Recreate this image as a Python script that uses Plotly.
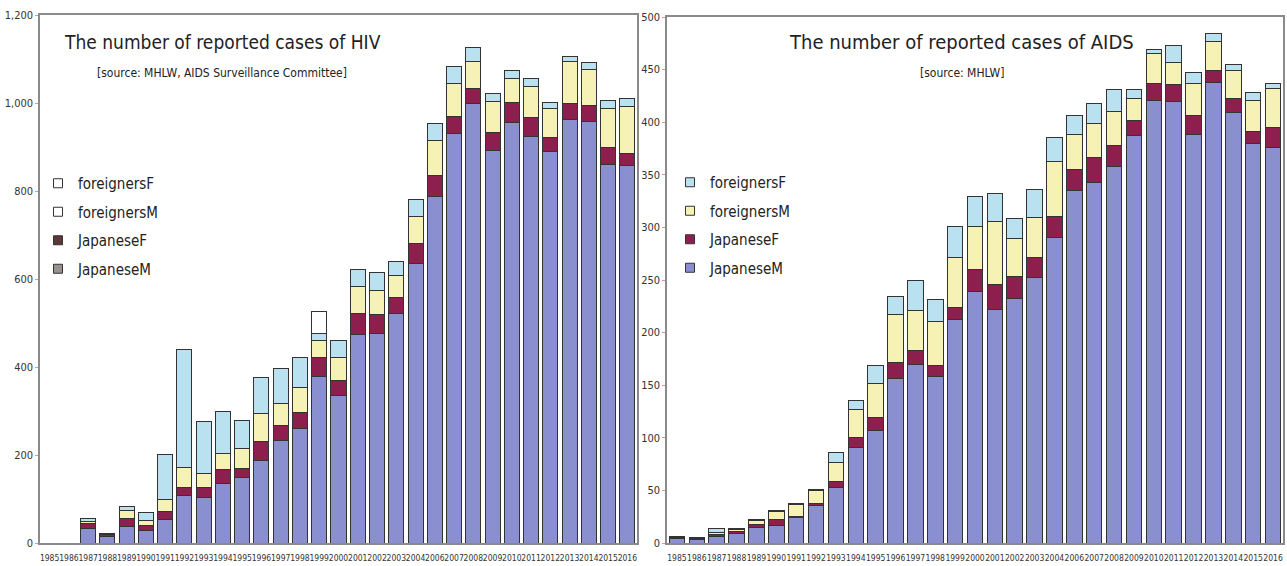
import plotly.graph_objects as go
from plotly.subplots import make_subplots

years = ["1985", "1986", "1987", "1988", "1989", "1990", "1991", "1992", "1993", "1994",
         "1995", "1996", "1997", "1998", "1999", "2000", "2001", "2002", "2003", "2004",
         "2006", "2007", "2008", "2009", "2010", "2011", "2012", "2013", "2014", "2015", "2016"]

# HIV (left chart)
hiv_jm = [0, 0, 33, 14, 37, 29, 54, 108, 103, 136, 148, 187, 234, 260, 378, 335, 473, 477, 522, 636,
          787, 931, 999, 893, 956, 923, 889, 963, 959, 860, 858]
hiv_jf = [0, 0, 12, 6, 19, 10, 18, 19, 24, 32, 21, 44, 33, 36, 44, 34, 49, 42, 37, 45,
          49, 38, 34, 40, 45, 44, 32, 35, 35, 40, 28]
hiv_fm = [0, 0, 5, 1, 19, 13, 27, 45, 32, 36, 46, 64, 49, 58, 38, 52, 60, 56, 48, 61,
          78, 76, 61, 70, 55, 70, 67, 96, 83, 88, 107]
hiv_ff = [0, 0, 5, 1, 7, 17, 102, 268, 118, 95, 64, 81, 80, 67, 17, 40, 39, 39, 33, 38,
          40, 37, 32, 18, 19, 19, 14, 12, 14, 18, 18]
hiv_other = [0, 0, 0, 0, 0, 0, 0, 0, 0, 0, 0, 0, 0, 0, 50, 0, 0, 0, 0, 0,
             0, 0, 0, 0, 0, 0, 0, 0, 0, 0, 0]

# AIDS (right chart)
aids_jm = [4, 3, 6, 9, 15, 17, 24, 36, 53, 91, 107, 156, 170, 158, 212, 239, 222, 232, 252, 290,
           335, 343, 358, 387, 421, 420, 388, 438, 409, 380, 376]
aids_jf = [0, 0, 2, 2, 3, 5, 1, 2, 5, 9, 12, 16, 13, 11, 12, 21, 24, 21, 19, 20,
           20, 23, 20, 15, 16, 16, 18, 11, 14, 11, 19]
aids_fm = [1, 1, 2, 2, 3, 8, 12, 12, 19, 27, 33, 45, 38, 42, 47, 41, 60, 36, 38, 53,
           33, 33, 32, 21, 28, 21, 31, 28, 26, 30, 37]
aids_ff = [1, 1, 4, 1, 1, 1, 1, 1, 9, 8, 17, 17, 29, 20, 30, 28, 26, 19, 27, 22,
           18, 19, 21, 8, 4, 16, 10, 7, 6, 7, 5]

series_names = ["JapaneseM", "JapaneseF", "foreignersM", "foreignersF"]
bar_colors = ["#8a8fd0", "#8c1f4e", "#f6f1b4", "#b9e1ef"]
left_legend_colors = ["#9a9090", "#5e3838", "#ffffff", "#ffffff"]
right_legend_colors = bar_colors

FONT = "Liberation Sans Narrow, DejaVu Sans Condensed, Arial Narrow, sans-serif"
OUTLINE = "#333333"

fig = make_subplots(rows=1, cols=2, horizontal_spacing=0.03)

for name, vals, col in zip(series_names, [hiv_jm, hiv_jf, hiv_fm, hiv_ff], bar_colors):
    fig.add_trace(go.Bar(x=years, y=vals, name=name, marker_color=col,
                         marker_line=dict(color=OUTLINE, width=1), showlegend=False),
                  row=1, col=1)
fig.add_trace(go.Bar(x=years, y=hiv_other, name="other", marker_color="#ffffff",
                     marker_line=dict(color=OUTLINE, width=1), showlegend=False), row=1, col=1)

for name, vals, col in zip(series_names, [aids_jm, aids_jf, aids_fm, aids_ff], bar_colors):
    fig.add_trace(go.Bar(x=years, y=vals, name=name, marker_color=col,
                         marker_line=dict(color=OUTLINE, width=1), showlegend=False),
                  row=1, col=2)

# legend entries (top to bottom: foreignersF, foreignersM, JapaneseF, JapaneseM)
for name, col in reversed(list(zip(series_names, left_legend_colors))):
    fig.add_trace(go.Scatter(x=[None], y=[None], mode="markers", name=name,
                             legendgroup="L" + name,
                             marker=dict(symbol="square", size=9, color=col,
                                         line=dict(color="#333333", width=1)),
                             legend="legend"), row=1, col=1)
for name, col in reversed(list(zip(series_names, right_legend_colors))):
    fig.add_trace(go.Scatter(x=[None], y=[None], mode="markers", name=name,
                             legendgroup="R" + name,
                             marker=dict(symbol="square", size=9, color=col,
                                         line=dict(color="#333333", width=1)),
                             legend="legend2"), row=1, col=2)

W, H = 1287, 566
ml, mr, mt, mb = 40, 4, 15, 23
pw = W - ml - mr
ph = H - mt - mb

def px(x):
    return (x - ml) / pw

def py(y):
    return (H - mb - y) / ph

leg_font = dict(size=15, family=FONT, color="#222222")
fig.update_layout(
    width=W, height=H,
    margin=dict(l=ml, r=mr, t=mt, b=mb, autoexpand=False),
    barmode="stack", bargap=0.22,
    paper_bgcolor="white", plot_bgcolor="white",
    font=dict(family=FONT, color="#222222"),
    legend=dict(x=px(38), y=py(167), xanchor="left", yanchor="top", font=leg_font,
                traceorder="grouped", bgcolor="rgba(0,0,0,0)", itemwidth=30, tracegroupgap=6),
    legend2=dict(x=px(670), y=py(166), xanchor="left", yanchor="top", font=leg_font,
                 traceorder="grouped", bgcolor="rgba(0,0,0,0)", itemwidth=30, tracegroupgap=6),
)

axis_common = dict(showline=True, linecolor="#8a8a8a", linewidth=1.5, mirror=True,
                   showgrid=False, zeroline=False, automargin=False)
fig.update_xaxes(**axis_common, type="category", tickfont=dict(size=8.5, family=FONT, color="#333333"),
                 tickangle=0, ticks="", ticklabelstandoff=6)
fig.update_xaxes(domain=[0, px(637)], row=1, col=1)
fig.update_xaxes(domain=[px(667), 1.0], row=1, col=2)
fig.update_yaxes(**axis_common, ticks="outside", ticklen=3, tickcolor="#aaaaaa",
                 tickfont=dict(size=11, family=FONT, color="#333333"))
fig.update_yaxes(range=[0, 1200], dtick=200, tickformat=",", row=1, col=1)
fig.update_yaxes(range=[0, 500], dtick=50, domain=[0, py(17)], row=1, col=2)

ann = [
    dict(text="The number of reported cases of HIV", x=px(222), y=py(42), size=19),
    dict(text="[source: MHLW, AIDS Surveillance Committee]", x=px(222), y=py(73), size=12),
    dict(text="The number of reported cases of AIDS", x=px(961), y=py(42), size=20),
    dict(text="[source: MHLW]", x=px(962), y=py(73), size=12),
]
for a in ann:
    fig.add_annotation(text=a["text"], x=a["x"], y=a["y"], xref="paper", yref="paper",
                       xanchor="center", yanchor="middle", showarrow=False,
                       font=dict(size=a["size"], family=FONT, color="#222222"))

fig.write_html("out.html", config={"displayModeBar": False},
               post_script="document.body.style.margin='0';")
